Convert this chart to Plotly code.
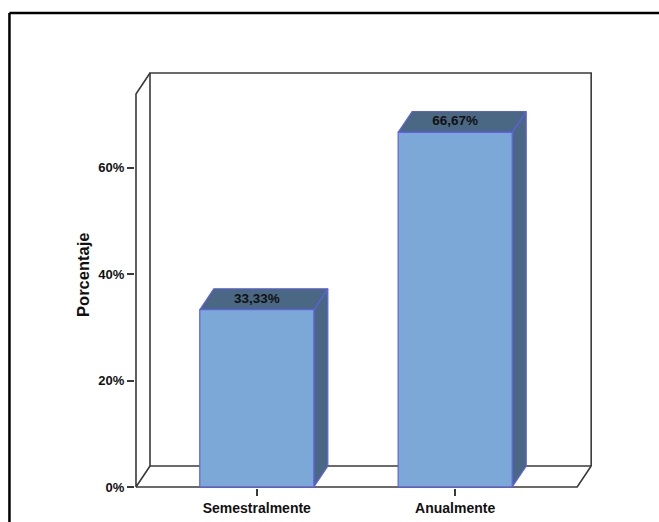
import plotly.graph_objects as go

# ---- data ----
categories = ["Semestralmente", "Anualmente"]
percentages = [33.33, 66.67]
value_labels = ["33,33%", "66,67%"]
y_tick_values = [0, 20, 40, 60]
y_tick_labels = ["0%", "20%", "40%", "60%"]
y_title = "Porcentaje"

# ---- styling / geometry constants ----
FRONT = "#7BA8D6"
DARK = "#4A6883"
EDGE = "#5F5FE6"
FRAME = "#3a3a3a"
FONT = "Liberation Sans, Arial, sans-serif"

bar_w = 0.575          # bar width in category units
dx, dy = 0.0706, 3.94  # 3D depth offset (x units, % units)
x_lo, x_hi = -0.609, 1.615
y_top = 73.9

# axis ranges & pixel layout (body margin removed via post_script)
PPX, PPY = 198.3, 5.318          # px per category unit / per percent
xa, xb = x_lo - 0.005, 1.72
ya, yb = -0.2, 78.6
OFF = 0
W, H = 659, 522
left_abs = 136 + (xa - x_lo) * PPX
plot_w = (xb - xa) * PPX
bottom_abs = 487 - ya * PPY
plot_h = (yb - ya) * PPY
top_abs = bottom_abs - plot_h
m_l = left_abs - OFF
m_r = W - m_l - plot_w
m_t = top_abs - OFF
m_b = H - m_t - plot_h


def px_to_paper_x(px):
    return (px - left_abs) / plot_w


def px_to_paper_y(py):
    return (bottom_abs - py) / plot_h


fig = go.Figure()


def line(xs, ys, color=FRAME, width=1.6):
    fig.add_trace(go.Scatter(x=xs, y=ys, mode="lines",
                             line=dict(color=color, width=width),
                             hoverinfo="skip", showlegend=False))


# frame: back wall + floor + front left axis
line([x_lo + dx, x_lo + dx, x_hi + dx, x_hi + dx],
     [dy, y_top + dy, y_top + dy, dy])
line([x_lo + dx, x_hi + dx], [dy, dy])
line([x_lo, x_hi, x_hi + dx], [0, 0, dy])
line([x_lo + dx, x_lo, x_lo, x_lo + dx], [dy, 0, y_top, y_top + dy])

# bars
for i, (cat, v) in enumerate(zip(categories, percentages)):
    xl, xr = i - bar_w / 2, i + bar_w / 2
    fig.add_trace(go.Scatter(x=[xr, xr + dx, xr + dx, xr, xr],
                             y=[0, dy, v + dy, v, 0],
                             fill="toself", fillcolor=DARK, mode="lines",
                             line=dict(color=EDGE, width=1.2),
                             hoverinfo="skip", showlegend=False))
    fig.add_trace(go.Scatter(x=[xl, xl + dx, xr + dx, xr, xl],
                             y=[v, v + dy, v + dy, v, v],
                             fill="toself", fillcolor=DARK, mode="lines",
                             line=dict(color=EDGE, width=1.2),
                             hoverinfo="skip", showlegend=False))
    fig.add_trace(go.Scatter(x=[xl, xr, xr, xl, xl],
                             y=[0, 0, v, v, 0],
                             fill="toself", fillcolor=FRONT, mode="lines",
                             line=dict(color=EDGE, width=1.2),
                             hoverinfo="skip", showlegend=False))

# value labels on the top faces
fig.add_trace(go.Scatter(x=list(range(len(categories))),
                         y=[v + dy / 2 for v in percentages],
                         mode="text", text=value_labels,
                         textfont=dict(family=FONT, size=13.5, color="#111111",
                                       weight="bold"),
                         textposition="middle center",
                         hoverinfo="skip", showlegend=False))

fig.update_layout(
    width=W, height=H,
    margin=dict(l=m_l, r=m_r, t=m_t, b=m_b, autoexpand=False),
    paper_bgcolor="white", plot_bgcolor="white",
    xaxis=dict(range=[xa, xb], showgrid=False, zeroline=False,
               showline=False, tickmode="array",
               tickvals=list(range(len(categories))), ticktext=categories,
               ticks="outside", ticklen=7, tickwidth=1.5, tickcolor=FRAME,
               tickfont=dict(family=FONT, size=14, color="#111111",
                             weight="bold")),
    yaxis=dict(range=[ya, yb], showgrid=False, zeroline=False,
               showline=False, tickmode="array",
               tickvals=y_tick_values, ticktext=y_tick_labels,
               ticks="outside", ticklen=7, tickwidth=1.5, tickcolor=FRAME,
               tickfont=dict(family=FONT, size=13, color="#111111",
                             weight="bold")),
    annotations=[dict(text="<b>" + y_title + "</b>", textangle=-90,
                      xref="paper", yref="paper",
                      x=px_to_paper_x(83), y=px_to_paper_y(275),
                      xanchor="center", yanchor="middle", showarrow=False,
                      font=dict(family=FONT, size=16.5, color="#111111"))],
    shapes=[dict(type="line", xref="paper", yref="paper",
                 x0=px_to_paper_x(9.5), x1=px_to_paper_x(700),
                 y0=px_to_paper_y(13), y1=px_to_paper_y(13),
                 line=dict(color="black", width=2.5), layer="below"),
            dict(type="line", xref="paper", yref="paper",
                 x0=px_to_paper_x(9.5), x1=px_to_paper_x(9.5),
                 y0=px_to_paper_y(13), y1=px_to_paper_y(600),
                 line=dict(color="black", width=2.5), layer="below")],
)

fig.write_html(
    "out.html",
    config={"displayModeBar": False},
    post_script="document.body.style.margin='0px';"
                "document.body.style.overflow='hidden';",
)
